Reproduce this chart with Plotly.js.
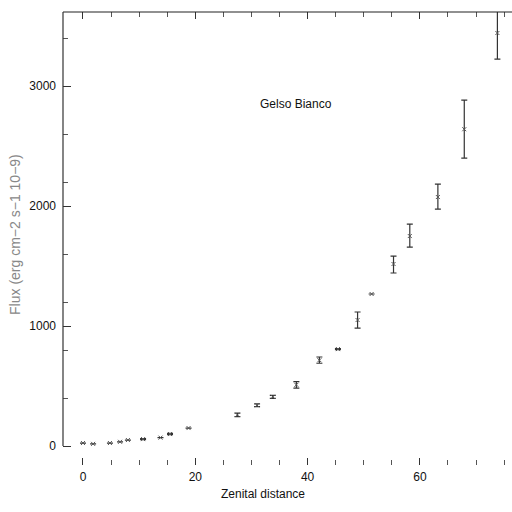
<!DOCTYPE html>
<html><head><meta charset="utf-8">
<script src="https://cdn.plot.ly/plotly-3.0.1.min.js"></script>
<style>html,body{margin:0;padding:0;background:#fff}#chart{width:512px;height:512px}</style>
</head><body><div id="chart"></div>
<script>
// Zenital distance (deg)
const zenith = [0, 1.8, 4.8, 6.6, 8, 10.7, 13.8, 15.5, 18.8, 27.5, 31, 33.8, 38, 42.1, 45.4, 48.9, 51.4, 55.3, 58.2, 63.2, 67.9, 73.8];
// Flux (erg cm-2 s-1 10-9)
const flux = [25, 18, 25, 35, 50, 58, 70, 100, 150, 260, 340, 410, 510, 715, 808, 1050, 1267, 1517, 1750, 2075, 2640, 3442];
const errPlus = [0, 0, 0, 0, 0, 5, 0, 5, 0, 15, 12, 12, 26, 27, 4, 67, 0, 66, 100, 108, 243, 300];
const errMinus = [0, 0, 0, 0, 0, 5, 0, 5, 0, 15, 12, 12, 27, 25, 4, 67, 0, 75, 92, 100, 240, 217];
const xTickVals = [0, 20, 40, 60];
const yTickVals = [0, 1000, 2000, 3000];
const yMinorVals = [400, 800, 1200, 1600, 2200, 2600, 3400];
const chartTitle = "Gelso Bianco";
const xTitle = "Zenital distance";
const yTitle = "Flux (erg cm−2 s−1 10−9)";

const xRange = [-3.56, 76.4];
const yRange = [-158, 3617];

const trace = {
  x: zenith, y: flux, type: 'scatter', mode: 'markers',
  marker: {symbol: 'x-thin', size: 4, line: {width: 1, color: '#555'}, color: '#555'},
  error_y: {type: 'data', symmetric: false, array: errPlus, arrayminus: errMinus,
            color: '#333', thickness: 1.2, width: 3},
  cliponaxis: true, hoverinfo: 'none'
};

const font = {family: 'Liberation Sans, Arial, sans-serif', size: 12, color: '#111'};

const layout = {
  width: 512, height: 512,
  margin: {l: 63, r: 0, t: 12, b: 47},
  paper_bgcolor: '#fff', plot_bgcolor: '#fff',
  showlegend: false,
  font: font,
  xaxis: {
    range: xRange, showgrid: false, zeroline: false, showline: false,
    tickvals: xTickVals, ticktext: xTickVals.map(String),
    ticks: 'inside', ticklen: 7, tickcolor: '#333', tickwidth: 1,
    mirror: 'ticks',
    minor: {dtick: 5, tick0: 0, ticks: 'inside', ticklen: 5, tickcolor: '#555', showgrid: false},
    tickfont: {family: font.family, size: 12, color: '#111'},
    ticklabelstandoff: 3
  },
  yaxis: {
    range: yRange, showgrid: false, zeroline: false, showline: false,
    tickvals: yTickVals, ticktext: yTickVals.map(String),
    ticks: 'inside', ticklen: 8, tickcolor: '#333', tickwidth: 1,
    minor: {tickvals: yMinorVals, ticks: 'inside', ticklen: 5, tickcolor: '#555', showgrid: false},
    tickfont: {family: font.family, size: 12, color: '#111'},
    ticklabelstandoff: 6
  },
  shapes: [
    {type: 'line', xref: 'paper', yref: 'paper', x0: 0, x1: 1, y0: 1, y1: 1, line: {color: '#222', width: 1.2}},
    {type: 'line', xref: 'paper', yref: 'y', x0: 0, x1: 0, y0: 0, y1: yRange[1], line: {color: '#333', width: 1.2}}
  ],
  annotations: [
    {text: chartTitle, xref: 'x', yref: 'y', x: 37.9, y: 2850, showarrow: false,
     font: {family: font.family, size: 12, color: '#111'}, xanchor: 'center', yanchor: 'middle'},
    {text: xTitle, xref: 'paper', yref: 'paper', x: 0.445, y: -0.064, showarrow: false,
     font: {family: font.family, size: 12, color: '#111'}, xanchor: 'center', yanchor: 'middle'},
    {text: yTitle, xref: 'paper', yref: 'paper', x: -0.107, y: 0.51, showarrow: false, textangle: -90,
     font: {family: font.family, size: 14, color: '#888'}, xanchor: 'center', yanchor: 'middle'}
  ]
};

Plotly.newPlot('chart', [trace], layout, {staticPlot: true, displayModeBar: false});
</script></body></html>
